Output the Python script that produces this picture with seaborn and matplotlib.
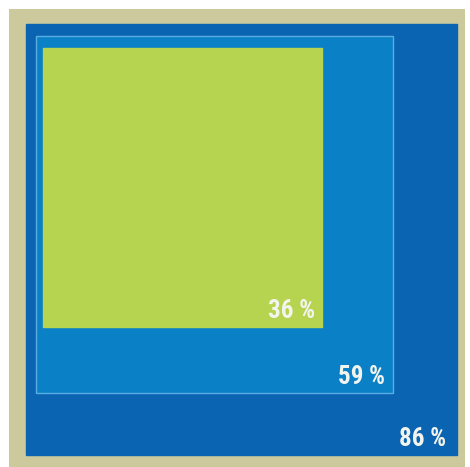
import numpy as np
import matplotlib
matplotlib.use("Agg")
import matplotlib.pyplot as plt
from matplotlib.patches import Rectangle
from matplotlib import font_manager
import seaborn as sns

# Data
labels = ["86 %", "59 %", "36 %"]
values = [86, 59, 36]

sns.set_theme(style="white")
names = {f.name for f in font_manager.fontManager.ttflist}
narrow = [n for n in ["Liberation Sans Narrow", "DejaVu Sans Condensed", "Roboto Condensed"] if n in names]
plt.rcParams['font.family'] = narrow + ['Liberation Sans', 'DejaVu Sans']

colors = ["#0A64B2", "#0A80C6", "#B6D450"]
edge_colors = ["#0A64B2", "#5AAEE2", "#B6D450"]
# top-left anchors (layout, pixels)
anchors = [(26, 24), (36, 36), (43, 48)]
scale = 431 / np.sqrt(86)  # side length per sqrt(percent)
text_dx = [11, 8, 7]

fig = plt.figure(figsize=(4.70, 4.67), dpi=100)
ax = fig.add_axes([0, 0, 1, 1])
ax.set_xlim(0, 470)
ax.set_ylim(467, 0)
ax.axis("off")

# beige frame
ax.add_patch(Rectangle((9, 9), 456, 460, facecolor="#CCC99C", edgecolor="none"))

fs = 18 if narrow else 16
for v, lab, c, ec, (x0, y0), dx in zip(values, labels, colors, edge_colors, anchors, text_dx):
    side = scale * np.sqrt(v)
    ax.add_patch(Rectangle((x0, y0), side, side, facecolor=c, edgecolor=ec, linewidth=1))
    ax.text(x0 + side - dx, y0 + side - 9, lab, ha="right", va="baseline",
            color="#F4F4EE", fontsize=fs, fontweight="bold", fontstretch="condensed")

fig.savefig("out.png", dpi=100)
